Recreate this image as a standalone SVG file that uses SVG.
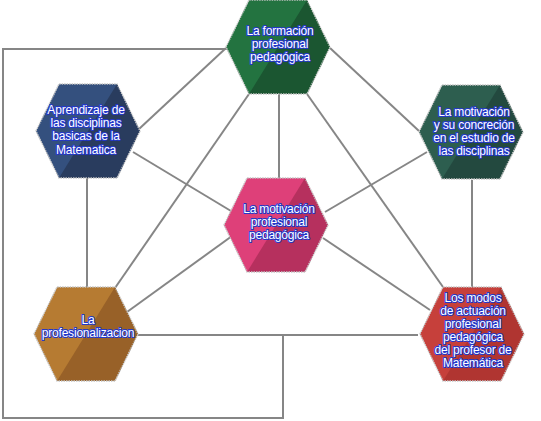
<svg xmlns="http://www.w3.org/2000/svg" width="541" height="421" viewBox="0 0 541 421">
<style>
.c{fill:none;stroke:#868686;stroke-width:2}
.o{fill:none;stroke:#c4c4c4;stroke-width:1.4;stroke-dasharray:1.5 1}
.t{font-family:"Liberation Sans",Arial,sans-serif;font-size:12px;letter-spacing:-0.2px;fill:#ffffff;stroke:#2438c8;stroke-width:2px;paint-order:stroke;stroke-linejoin:round;text-anchor:middle}
</style>
<defs>
<polygon id="hex" points="-52,0 -29,-47 29,-47 52,0 29,47 -29,47"/>
<polygon id="half" points="29,-47 52,0 29,47 -29,47"/>
</defs>
<rect width="541" height="421" fill="#ffffff"/>
<g id="connectors">
<path class="c" d="M227,49 H3 V418 H283 V335"/>
<line class="c" x1="226" y1="48" x2="139" y2="129"/>
<line class="c" x1="249" y1="94" x2="115" y2="288"/>
<line class="c" x1="279" y1="94" x2="279" y2="178"/>
<line class="c" x1="307" y1="94" x2="443" y2="287"/>
<line class="c" x1="330" y1="48" x2="419" y2="131"/>
<line class="c" x1="133" y1="152" x2="231" y2="211"/>
<line class="c" x1="87" y1="178" x2="87" y2="288"/>
<line class="c" x1="427" y1="152" x2="325" y2="212"/>
<line class="c" x1="472" y1="180" x2="472" y2="287"/>
<line class="c" x1="232" y1="236" x2="127" y2="312"/>
<line class="c" x1="323" y1="238" x2="430" y2="310"/>
<line class="c" x1="138" y1="335" x2="418" y2="335"/>
</g>
<g id="n-formacion">
<use href="#hex" x="278" y="47" fill="#237340"/>
<use href="#half" x="278" y="47" fill="#1b5631"/>
<use href="#hex" x="278" y="47" class="o"/>
<text class="t"><tspan x="280" y="35">La formación</tspan><tspan x="280" y="48">profesional</tspan><tspan x="280" y="61">pedagógica</tspan></text>
</g>
<g id="n-aprendizaje">
<use href="#hex" x="88" y="131" fill="#34507e"/>
<use href="#half" x="88" y="131" fill="#293c5e"/>
<use href="#hex" x="88" y="131" class="o"/>
<text class="t"><tspan x="86" y="114">Aprendizaje de</tspan><tspan x="86" y="127">las disciplinas</tspan><tspan x="86" y="140">basicas de la</tspan><tspan x="86" y="154">Matematica</tspan></text>
</g>
<g id="n-motivacion-estudio">
<use href="#hex" x="471" y="132" fill="#2d5e4f"/>
<use href="#half" x="471" y="132" fill="#23493f"/>
<use href="#hex" x="471" y="132" class="o"/>
<text class="t"><tspan x="474" y="116">La motivación</tspan><tspan x="474" y="129">y su concreción</tspan><tspan x="474" y="142">en el estudio de</tspan><tspan x="474" y="155">las disciplinas</tspan></text>
</g>
<g id="n-motivacion-profesional">
<use href="#hex" x="276" y="225" fill="#de4079"/>
<use href="#half" x="276" y="225" fill="#b6305e"/>
<use href="#hex" x="276" y="225" class="o"/>
<text class="t"><tspan x="279" y="213">La motivación</tspan><tspan x="279" y="226">profesional</tspan><tspan x="279" y="239">pedagógica</tspan></text>
</g>
<g id="n-profesionalizacion">
<use href="#hex" x="86" y="334" fill="#b67b32"/>
<use href="#half" x="86" y="334" fill="#986128"/>
<use href="#hex" x="86" y="334" class="o"/>
<text class="t"><tspan x="88" y="324">La</tspan><tspan x="88" y="337">profesionalizacion</tspan></text>
</g>
<g id="n-modos">
<use href="#hex" x="472" y="334" fill="#c6403b"/>
<use href="#half" x="472" y="334" fill="#b03531"/>
<use href="#hex" x="472" y="334" class="o"/>
<text class="t"><tspan x="473" y="302">Los modos</tspan><tspan x="473" y="315">de actuación</tspan><tspan x="473" y="328">profesional</tspan><tspan x="473" y="341">pedagógica</tspan><tspan x="473" y="354">del profesor de</tspan><tspan x="473" y="367">Matemática</tspan></text>
</g>
</svg>
